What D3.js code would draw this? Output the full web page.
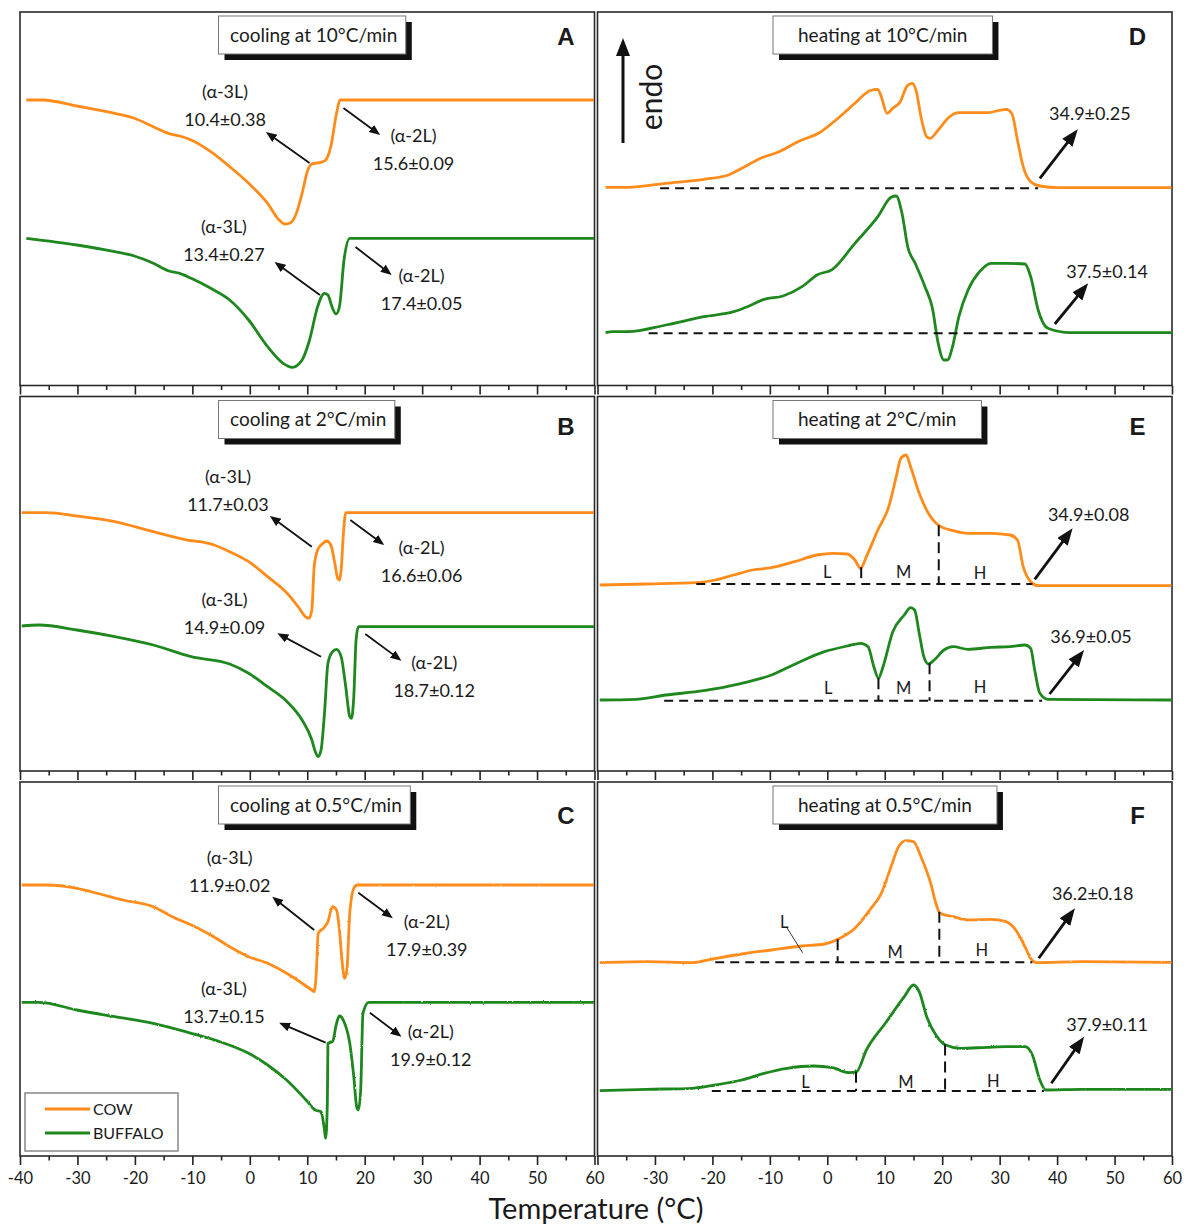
<!DOCTYPE html>
<html>
<head>
<meta charset="utf-8">
<script src="https://cdn.jsdelivr.net/npm/d3@7"></script>
<style>
  body { margin: 0; background: #fff; }
  svg { display: block; }
  text { font-family: Lato, "Open Sans", "Noto Sans", sans-serif; fill: #1a1a1a; }
</style>
</head>
<body>
<svg id="chart" width="1184" height="1227"></svg>
<script>
// ---------------------------------------------------------------
// DSC thermograms of cow and buffalo milk fat.
// Each series: [temperature (°C), heat flow (a.u., endo up)]
// ---------------------------------------------------------------

// Cooling at 10 °C/min
const cool10_cow = [[-38.9,285.5],[-36.1,285.5],[-30.1,279.5],[-23.5,272.2],[-20.1,267.2],[-16.8,258.8],[-14.2,252.2],[-12.2,249.5],[-10.2,245.5],[-6.8,233.8],[-3.5,218.8],[-0.2,202.2],[3.1,182.2],[5.1,165.5],[6.1,161.5],[7.1,162.8],[8.1,172.2],[9.1,192.2],[10.1,215.5],[10.8,221.5],[12.1,222.8],[13.1,224.8],[14.1,238.8],[15.1,272.2],[15.7,285.5],[59.9,285.5]];
const cool10_buffalo = [[-38.9,147.2],[-30.1,140.5],[-23.5,133.8],[-20.1,129.5],[-16.8,122.2],[-14.2,114.8],[-12.2,112.2],[-10.2,107.2],[-6.8,97.2],[-3.5,85.5],[-0.2,65.5],[3.1,38.8],[5.8,22.2],[7.4,18.2],[9.1,25.5],[10.4,45.5],[11.8,78.8],[13.0,92.2],[13.6,90.5],[14.3,78.8],[15.0,71.5],[15.6,78.8],[16.4,125.5],[17.4,147.2],[59.9,147.2]];

// Cooling at 2 °C/min
const cool2_cow = [[-39.7,258.3],[-35.4,258.3],[-30.1,255],[-23.5,249.3],[-16.8,239.3],[-11.5,231.7],[-6.2,226],[-3.5,219.3],[-0.2,209.3],[3.1,194.3],[6.5,177.7],[8.4,164.3],[9.8,153.7],[10.3,152.7],[10.8,161],[11.2,204.3],[11.8,221],[12.6,227],[13.4,230],[14.1,226],[14.8,207.7],[15.3,192.7],[15.6,191],[15.9,201],[16.3,237.7],[16.7,258.3],[59.9,258.3]];
const cool2_buffalo = [[-39.7,145],[-36.7,146],[-30.1,141],[-23.5,134.3],[-16.8,126],[-10.2,114.3],[-3.5,107],[-0.2,97.7],[3.1,84.3],[6.5,69.3],[9.1,51],[10.8,31],[11.4,19.3],[11.9,14.3],[12.4,21],[13.0,57.7],[13.6,107.7],[14.4,119.3],[15.1,121.7],[15.9,114.3],[16.7,84.3],[17.4,54.3],[17.7,52.7],[18.1,74.3],[18.5,131],[18.9,144.3],[59.9,144.3]];

// Cooling at 0.5 °C/min
const cool05_cow = [[-39.7,271],[-35.4,271],[-30.1,267.7],[-26.1,262],[-22.1,256],[-16.8,249.3],[-13.5,239.3],[-10.2,231],[-6.8,221],[-3.5,209.3],[-0.2,199.3],[3.1,192.7],[6.4,182.7],[9.1,172.7],[10.8,166],[11.2,164.3],[11.6,186],[11.9,222.7],[12.8,227.7],[13.6,234.3],[14.4,249.3],[15.1,246],[15.6,226],[16.1,192.7],[16.5,177.7],[16.9,186],[17.4,242.7],[18.1,267.7],[18.7,271],[59.9,271]];
const cool05_buffalo = [[-39.7,153.7],[-36.7,153.7],[-30.1,146],[-23.5,139.3],[-16.8,132.7],[-10.2,122.7],[-5.2,114.3],[-0.2,102.7],[3.1,91],[6.4,76],[9.8,56],[11.4,46],[12.4,44.3],[13.0,26],[13.2,17.7],[13.5,52.7],[13.6,112.7],[14.4,114.3],[15.1,132.7],[15.6,140],[16.4,134.3],[17.4,112.7],[18.1,79.3],[18.6,49.3],[18.9,46],[19.3,66],[19.7,142.7],[20.7,153.7],[59.9,153.7]];

// Heating at 10 °C/min
const heat10_cow = [[-38.6,198.2],[-34.7,198.2],[-28.1,202.2],[-21.5,206.2],[-17.2,210.5],[-14.9,217.2],[-11.6,227.2],[-8.4,233.8],[-5.1,243.8],[-1.1,253.8],[1.5,265.5],[4.8,282.2],[7.4,294.8],[8.8,296.2],[9.4,288.8],[10.4,272.2],[11.4,277.2],[12.7,283.8],[13.9,299.5],[14.8,302.2],[15.5,293.8],[16.3,268.8],[17.3,248.8],[17.9,247.2],[19.3,255.5],[21.3,268.8],[22.9,272.8],[27.8,272.8],[31.1,276.2],[32.1,272.2],[33.1,245.5],[34.1,218.8],[35.4,203.8],[37.0,199.5],[40.3,197.8],[59.9,197.8]];
const heat10_buffalo = [[-38.6,52.8],[-37.3,53.8],[-34.7,53.8],[-28.1,60.5],[-21.5,68.8],[-16.3,73.8],[-13.6,79.5],[-11.0,86.2],[-7.7,89.5],[-4.4,98.8],[-1.8,110.5],[0.9,116.2],[4.8,142.2],[8.8,168.8],[11.1,188.2],[12.0,189.5],[13.0,172.2],[14.0,138.8],[15.3,122.2],[17.0,98.8],[18.3,77.2],[19.3,42.2],[20.3,25.5],[20.9,25.5],[21.8,38.8],[22.9,68.8],[24.5,95.5],[26.5,113.8],[28.5,122.2],[31.1,122.2],[34.4,121.5],[35.4,108.8],[36.7,75.5],[38.4,57.2],[42.3,52.8],[59.9,52.8]];

// Heating at 2 °C/min
const heat2_cow = [[-39.6,186],[-31.4,187],[-22.8,188.3],[-19.5,191],[-16.3,196],[-13.0,201],[-9.7,203.3],[-5.7,209.3],[-1.8,216],[0.9,217.7],[3.5,217],[4.8,211],[5.8,202.7],[6.8,214.3],[8.8,241],[10.7,264.3],[12.0,294.3],[12.8,312.7],[13.7,316],[14.5,304.3],[16.0,277.7],[17.6,257.7],[19.3,246],[21.9,240.3],[24.5,237.7],[28.5,237.7],[31.8,236],[33.1,231],[34.1,204.3],[35.4,189.3],[36.7,185.3],[59.9,185.3]];
const heat2_buffalo = [[-39.6,71],[-33.4,71.7],[-28.1,76],[-21.5,80.3],[-14.9,87.7],[-9.7,96],[-5.1,108.3],[-0.5,119.3],[3.5,125],[5.8,127.7],[7.1,124.3],[8.1,104.3],[8.9,92.7],[9.7,104.3],[11.4,139.3],[13.4,156],[14.5,163.3],[15.2,161],[16.0,137.7],[16.8,114.3],[17.6,107],[18.6,111],[20.3,121],[21.9,124.3],[24.5,121.7],[28.5,123.7],[31.8,124.3],[34.4,126],[35.4,122.7],[36.1,101],[37.0,77.7],[38.4,71.7],[59.9,71]];

// Heating at 0.5 °C/min
const heat05_cow = [[-39.6,193.3],[-31.4,194.3],[-23.5,193.3],[-20.2,196.7],[-14.9,202],[-9.7,206],[-4.4,210],[-0.5,212],[2.2,217.7],[4.8,227.7],[7.4,246],[9.4,262.7],[11.1,289.3],[12.4,309.3],[13.7,315.3],[15.0,314.3],[16.3,299.3],[18.0,272.7],[18.9,252.7],[19.6,242.7],[21.9,239.3],[24.5,236],[28.5,236.7],[31.1,234.3],[32.8,226],[34.4,209.3],[35.4,197.7],[36.4,193.3],[44.3,194.3],[59.9,193.7]];
const heat05_buffalo = [[-39.6,65.3],[-31.4,66.7],[-23.5,67.7],[-19.5,71],[-14.9,76],[-11.0,82.7],[-7.0,87.7],[-2.4,90],[0.9,88.3],[3.8,83.3],[5.1,84.3],[6.8,106],[10.1,132.7],[13.4,159.3],[15.0,171],[16.0,164.3],[17.3,139.3],[18.9,121],[20.6,111],[23.2,107.7],[27.8,108.7],[31.1,109.3],[34.4,109.3],[35.7,101],[37.0,76],[38.0,66],[44.3,66.7],[59.9,66.7]];

// Crystallization onsets (cooling) and end of melting (heating), °C
const coolOnsets = {
  A: { cow: ["10.4±0.38", "15.6±0.09"], buffalo: ["13.4±0.27", "17.4±0.05"] },
  B: { cow: ["11.7±0.03", "16.6±0.06"], buffalo: ["14.9±0.09", "18.7±0.12"] },
  C: { cow: ["11.9±0.02", "17.9±0.39"], buffalo: ["13.7±0.15", "19.9±0.12"] }
};
const meltEnds = {
  D: { cow: "34.9±0.25", buffalo: "37.5±0.14" },
  E: { cow: "34.9±0.08", buffalo: "36.9±0.05" },
  F: { cow: "36.2±0.18", buffalo: "37.9±0.11" }
};

// Melting baselines [from °C, to °C, level] and L/M/H fraction limits (°C)
const baselines = {
  D: { cow: [-29.1, 36.7, 197.2], buffalo: [-31.1, 38.7, 52.2] },
  E: { cow: [-22.8, 35.7, 187],   buffalo: [-28.4, 37.4, 70.3] },
  F: { cow: [-19.5, 35.7, 193.7], buffalo: [-20.1, 37.7, 65] }
};
const fractionLimits = {
  E: { cow: [5.9, 19.4], buffalo: [8.9, 17.8] },
  F: { cow: [1.8, 19.5], buffalo: [5.0, 20.5] }
};

const xTicksMajor = [-40, -30, -20, -10, 0, 10, 20, 30, 40, 50, 60];
const xTicksMinor = [-35, -25, -15, -5, 5, 15, 25, 35, 45, 55];
const seriesNames = ["COW", "BUFFALO"];

// ---------------------------------------------------------------
// Annotation placement (data coordinates: [°C, heat flow])
// ---------------------------------------------------------------
const coolNotes = {
  A: {
    cow:     [{ pos: [-4.3, 293.5], tail: [10.4, 222.5], tip: [2.8, 253.5] },
              { pos: [28.5, 249.5], tail: [16.3, 277.5], tip: [22.7, 250.5] }],
    buffalo: [{ pos: [-4.5, 158.5], tail: [12.2, 90.5],  tip: [4.3, 123.5] },
              { pos: [29.9, 109.5], tail: [18.4, 138.5], tip: [24.7, 110.5] }]
  },
  B: {
    cow:     [{ pos: [-3.8, 294.3], tail: [10.8, 224.3], tip: [3.5, 255] },
              { pos: [29.9, 223],   tail: [17.5, 251],   tip: [23.4, 226] }],
    buffalo: [{ pos: [-4.4, 171],   tail: [12.4, 114.3], tip: [4.8, 137.7] },
              { pos: [32.1, 108],   tail: [20.1, 137],   tip: [26.4, 110.3] }]
  },
  C: {
    cow:     [{ pos: [-3.5, 298.7], tail: [11.2, 226],   tip: [3.9, 259.3] },
              { pos: [30.8, 234.3], tail: [18.9, 263.3], tip: [24.9, 237.7] }],
    buffalo: [{ pos: [-4.5, 167.7], tail: [13.2, 113.3], tip: [5.1, 133.3] },
              { pos: [31.5, 124.3], tail: [20.9, 143.3], tip: [26.4, 119.3] }]
  }
};
const heatNotes = {
  D: { cow: { pos: [45.7, 271.5], tail: [37.0, 207.2], tip: [43.6, 256.2] },
       buffalo: { pos: [48.7, 113.8], tail: [39.6, 61.5], tip: [45.4, 102.2] } },
  E: { cow: { pos: [45.5, 256], tail: [36.1, 191.7], tip: [42.7, 242.7] },
       buffalo: { pos: [45.9, 134.3], tail: [38.7, 77], tip: [44.7, 121] } },
  F: { cow: { pos: [46.2, 262], tail: [36.8, 197.7], tip: [43.1, 247.7] },
       buffalo: { pos: [48.7, 131], tail: [39.0, 72.7], tip: [44.7, 119.3] } }
};
const fractionLabels = {
  E: { cow: [[0.0, 199.3], [13.3, 199.3], [26.6, 198.3]],
       buffalo: [[0.15, 82.7], [13.3, 82.7], [26.6, 83.7]] },
  F: { cow: [[-7.5, 234.3], [11.8, 204.3], [26.9, 206]],
       buffalo: [[-3.8, 74.3], [13.7, 74.3], [28.9, 75.3]] }
};
const fLeader = { from: [-7.0, 228], to: [-4.3, 203.3] };

// ---------------------------------------------------------------
// Layout
// ---------------------------------------------------------------
const COLORS = { cow: "#ff8c1a", buffalo: "#1e871e" };
const COLS = [{ x0: 20, x1: 594.5, boxOffset: 198.5, boxPadL: 11.5, boxPadR: 8.5 },
              { x0: 597.5, x1: 1172, boxOffset: 175.5, boxPadL: 25, boxPadR: 25 }];
const ROWS = [{ top: 12, bottom: 385.5, letterY: 44.5 },
              { top: 396.5, bottom: 771, letterY: 435 },
              { top: 782, bottom: 1156, letterY: 823.5 }];
const Y_SPAN = 374;

const panels = [
  { key: "A", col: 0, row: 0, title: "cooling at 10°C/min",  cow: cool10_cow, buffalo: cool10_buffalo },
  { key: "B", col: 0, row: 1, title: "cooling at 2°C/min",   cow: cool2_cow,  buffalo: cool2_buffalo },
  { key: "C", col: 0, row: 2, title: "cooling at 0.5°C/min", cow: cool05_cow, buffalo: cool05_buffalo, slow: true },
  { key: "D", col: 1, row: 0, title: "heating at 10°C/min",  cow: heat10_cow, buffalo: heat10_buffalo },
  { key: "E", col: 1, row: 1, title: "heating at 2°C/min",   cow: heat2_cow,  buffalo: heat2_buffalo },
  { key: "F", col: 1, row: 2, title: "heating at 0.5°C/min", cow: heat05_cow, buffalo: heat05_buffalo, slow: true }
];

const svg = d3.select("#chart");

// arrow heads: thin for onsets, heavy for end of melting
const defs = svg.append("defs");
defs.append("marker").attr("id", "headThin")
  .attr("markerUnits", "userSpaceOnUse").attr("orient", "auto")
  .attr("markerWidth", 12).attr("markerHeight", 10).attr("refX", 11).attr("refY", 4.5)
  .append("path").attr("d", "M0,0 L11,4.5 L0,9 Z").attr("fill", "#111");
defs.append("marker").attr("id", "headBold")
  .attr("markerUnits", "userSpaceOnUse").attr("orient", "auto")
  .attr("markerWidth", 18).attr("markerHeight", 14).attr("refX", 17).attr("refY", 6.5)
  .append("path").attr("d", "M0,0 L17,6.5 L0,13 Z").attr("fill", "#111");

// slow-scan traces carry visible detector noise
const jitter = defs.append("filter").attr("id", "detectorNoise")
  .attr("x", "-2%").attr("y", "-5%").attr("width", "104%").attr("height", "110%");
jitter.append("feTurbulence").attr("type", "fractalNoise")
  .attr("baseFrequency", "0.6 0.25").attr("numOctaves", 1).attr("seed", 3).attr("result", "n");
jitter.append("feDisplacementMap").attr("in", "SourceGraphic").attr("in2", "n")
  .attr("scale", 2.2).attr("xChannelSelector", "R").attr("yChannelSelector", "G");

function valueAt(series, t) {
  const i = d3.bisector(d => d[0]).left(series, t);
  if (i <= 0) return series[0][1];
  if (i >= series.length) return series[series.length - 1][1];
  const a = series[i - 1], b = series[i];
  return a[1] + (b[1] - a[1]) * (t - a[0]) / (b[0] - a[0]);
}

function drawArrow(g, x, y, tail, tip, bold) {
  const x1 = x(tail[0]), y1 = y(tail[1]), x2 = x(tip[0]), y2 = y(tip[1]);
  const len = Math.hypot(x2 - x1, y2 - y1);
  const cut = bold ? 10 : 6;
  g.append("line")
    .attr("x1", x1).attr("y1", y1)
    .attr("x2", x2 - (x2 - x1) / len * cut).attr("y2", y2 - (y2 - y1) / len * cut)
    .attr("stroke", "#111").attr("stroke-width", bold ? 2.8 : 1.8);
  g.append("path")
    .attr("d", `M${x1},${y1}L${x2},${y2}`)
    .attr("stroke", "none").attr("fill", "none")
    .attr("marker-end", `url(#${bold ? "headBold" : "headThin"})`);
}

panels.forEach(p => {
  const col = COLS[p.col], row = ROWS[p.row];
  const x = d3.scaleLinear().domain([-40, 60]).range([col.x0, col.x1]);
  const y = d3.scaleLinear().domain([0, Y_SPAN]).range([row.bottom, row.bottom - Y_SPAN]);
  const g = svg.append("g").attr("class", "panel-" + p.key);

  // frame
  g.append("rect")
    .attr("x", col.x0).attr("y", row.top)
    .attr("width", col.x1 - col.x0).attr("height", row.bottom - row.top)
    .attr("fill", "none").attr("stroke", "#2a2a2a").attr("stroke-width", 1.6);

  // temperature axis
  const labelled = p.row === 2;
  const fmt = d => (!labelled || (p.col === 1 && d === -40)) ? "" : String(d);
  const axMajor = g.append("g").attr("transform", `translate(0,${row.bottom})`)
    .call(d3.axisBottom(x).tickValues(xTicksMajor).tickSize(9).tickPadding(7).tickFormat(fmt));
  const axMinor = g.append("g").attr("transform", `translate(0,${row.bottom})`)
    .call(d3.axisBottom(x).tickValues(xTicksMinor).tickSize(4.5).tickFormat(""));
  [axMajor, axMinor].forEach(ax => {
    ax.select(".domain").remove();
    ax.selectAll(".tick line").attr("stroke", "#222").attr("stroke-width", 1.6);
    ax.selectAll(".tick text").attr("font-size", 16.5).attr("fill", "#1a1a1a")
      .style("font-family", "Lato, 'Open Sans', sans-serif");
  });

  // title box with drop shadow
  const boxX = col.x0 + col.boxOffset, boxY = row.top + 4, boxH = 38;
  const shadow = g.append("rect");
  const box = g.append("rect");
  const title = g.append("text")
    .attr("x", boxX + col.boxPadL).attr("y", boxY + boxH / 2).attr("dy", "0.36em")
    .attr("font-size", 19).text(p.title);
  const bw = title.node().getComputedTextLength() + col.boxPadL + col.boxPadR;
  shadow.attr("x", boxX + 6).attr("y", boxY + 6).attr("width", bw).attr("height", boxH).attr("fill", "#111");
  box.attr("x", boxX).attr("y", boxY).attr("width", bw).attr("height", boxH)
    .attr("fill", "#fff").attr("stroke", "#777").attr("stroke-width", 1);

  // panel letter
  g.append("text")
    .attr("x", col.x1 - (p.col === 0 ? 28.5 : 34.5)).attr("y", row.letterY)
    .attr("text-anchor", "middle").attr("font-size", 24).attr("font-weight", "bold")
    .style("font-family", "'Liberation Sans', Arial, sans-serif")
    .text(p.key);

  // thermograms
  const line = d3.line().x(d => x(d[0])).y(d => y(d[1])).curve(d3.curveMonotoneX);
  ["cow", "buffalo"].forEach(s => {
    const path = g.append("path").datum(p[s])
      .attr("d", line).attr("fill", "none")
      .attr("stroke", COLORS[s]).attr("stroke-width", 2.8)
      .attr("stroke-linejoin", "round");
    if (p.slow) path.attr("filter", "url(#detectorNoise)");
  });

  // melting baselines and fraction limits
  if (baselines[p.key]) {
    ["cow", "buffalo"].forEach(s => {
      const [t0, t1, lvl] = baselines[p.key][s];
      g.append("line")
        .attr("x1", x(t0)).attr("x2", x(t1)).attr("y1", y(lvl)).attr("y2", y(lvl))
        .attr("stroke", "#111").attr("stroke-width", 2).attr("stroke-dasharray", "9,6");
      if (fractionLimits[p.key]) {
        fractionLimits[p.key][s].forEach(t => {
          g.append("line")
            .attr("x1", x(t)).attr("x2", x(t))
            .attr("y1", y(valueAt(p[s], t))).attr("y2", y(lvl))
            .attr("stroke", "#111").attr("stroke-width", 2).attr("stroke-dasharray", "11,6");
        });
        ["L", "M", "H"].forEach((lab, i) => {
          const pos = fractionLabels[p.key][s][i];
          g.append("text").attr("x", x(pos[0])).attr("y", y(pos[1])).attr("dy", "0.36em")
            .attr("text-anchor", "middle").attr("font-size", 16.5).text(lab);
        });
      }
    });
  }
  if (p.key === "F") {
    g.append("line")
      .attr("x1", x(fLeader.from[0])).attr("y1", y(fLeader.from[1]))
      .attr("x2", x(fLeader.to[0])).attr("y2", y(fLeader.to[1]))
      .attr("stroke", "#333").attr("stroke-width", 1);
  }

  // onset annotations (cooling)
  if (coolNotes[p.key]) {
    ["cow", "buffalo"].forEach(s => {
      coolNotes[p.key][s].forEach((n, i) => {
        const head = i === 0 ? "(α-3L)" : "(α-2L)";
        const val = coolOnsets[p.key][s][i];
        const tx = x(n.pos[0]), ty = y(n.pos[1]);
        g.append("text").attr("x", tx).attr("y", ty).attr("dy", "0.36em")
          .attr("text-anchor", "middle").attr("font-size", 18).text(head);
        g.append("text").attr("x", tx).attr("y", ty + 28).attr("dy", "0.36em")
          .attr("text-anchor", "middle").attr("font-size", 18).text(val);
        drawArrow(g, x, y, n.tail, n.tip, false);
      });
    });
  }

  // end-of-melting annotations (heating)
  if (heatNotes[p.key]) {
    ["cow", "buffalo"].forEach(s => {
      const n = heatNotes[p.key][s];
      g.append("text").attr("x", x(n.pos[0])).attr("y", y(n.pos[1])).attr("dy", "0.36em")
        .attr("text-anchor", "middle").attr("font-size", 18).text(meltEnds[p.key][s]);
      drawArrow(g, x, y, n.tail, n.tip, true);
    });
  }

  // endotherm direction
  if (p.key === "D") {
    const ax = col.x0 + 25.5;
    g.append("line").attr("x1", ax).attr("x2", ax).attr("y1", row.top + 131).attr("y2", row.top + 40)
      .attr("stroke", "#111").attr("stroke-width", 3);
    g.append("path")
      .attr("d", `M${ax - 7},${row.top + 44} L${ax},${row.top + 26} L${ax + 7},${row.top + 44} Z`)
      .attr("fill", "#111");
    g.append("text")
      .attr("transform", `translate(${col.x0 + 64},${row.top + 85}) rotate(-90)`)
      .attr("text-anchor", "middle").attr("font-size", 30).text("endo");
  }

  // legend
  if (p.key === "C") {
    const lx = col.x0 + 5, ly = row.bottom - 63;
    const lg = g.append("g");
    lg.append("rect").attr("x", lx).attr("y", ly).attr("width", 153).attr("height", 58)
      .attr("fill", "#fff").attr("stroke", "#888").attr("stroke-width", 1.5);
    ["cow", "buffalo"].forEach((s, i) => {
      const yy = ly + 16 + i * 24;
      lg.append("line").attr("x1", lx + 20).attr("x2", lx + 65).attr("y1", yy).attr("y2", yy)
        .attr("stroke", COLORS[s]).attr("stroke-width", 3);
      lg.append("text").attr("x", lx + 68).attr("y", yy).attr("dy", "0.36em")
        .attr("font-size", 16).text(seriesNames[i]);
    });
  }
});

// shared axis title
svg.append("text")
  .attr("x", 596).attr("y", 1219)
  .attr("text-anchor", "middle").attr("font-size", 29)
  .text("Temperature (°C)");
</script>
</body>
</html>
